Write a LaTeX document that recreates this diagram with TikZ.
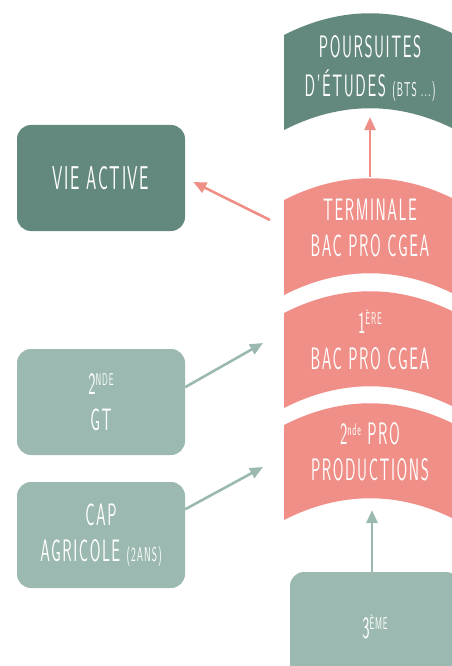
\documentclass[tikz,border=0pt]{standalone}
\usepackage{fontspec}
\usetikzlibrary{arrows.meta}
\newfontfamily\condfont{Latin Modern Sans}[FakeStretch=0.5,LetterSpace=5]
\definecolor{vert}{HTML}{63887D}
\definecolor{vertclair}{HTML}{9BB9B0}
\definecolor{saumon}{HTML}{F08F88}
\newcommand{\expo}[1]{\raisebox{9.5pt}{\fontsize{17}{17}\selectfont #1}}
\newcommand{\petit}[1]{{\fontsize{20}{20}\selectfont #1}}

\begin{document}
\begin{tikzpicture}[x=1pt,y=-1pt,
  txt/.style={text=white, font=\condfont\fontsize{31}{36}\selectfont, align=center, inner sep=0pt},
  boite/.style={fill=#1, rounded corners=14pt, minimum width=168pt, minimum height=106pt, txt},
  fleche/.style={draw=#1, line width=2.6pt, -{Triangle[length=13pt,width=11pt]}}]
\useasboundingbox (0,0) rectangle (452,666);
\clip (0,0) rectangle (452,666);
\foreach \haut/\coul in {35/vert, 200/saumon, 313/saumon, 425/saumon}
  \fill[\coul] (284,\haut) .. controls (341,\haut-29) and (399,\haut-29) .. (456,\haut)
    -- (456,\haut+95) .. controls (399,\haut+66) and (341,\haut+66) .. (284,\haut+95) -- cycle;
\node[txt] (pours) at (370,68) {POURSUITES\\[3pt]D’ÉTUDES \petit{(BTS ...)}};
\node[txt] (term) at (370,228) {TERMINALE\\BAC PRO CGEA};
\node[txt] (prem) at (370,340) {1\expo{ÈRE}\\BAC PRO CGEA};
\node[txt] (sec) at (370,452) {2\expo{nde} PRO\\PRODUCTIONS};
\node[boite=vert, font=\condfont\fontsize{33}{36}\selectfont] (vie) at (101,178) {VIE ACTIVE};
\node[boite=vertclair] (gt) at (101,402) {2\expo{NDE}\\GT};
\node[boite=vertclair] (cap) at (101,535) {CAP\\AGRICOLE \petit{(2ANS)}};
\node[boite=vertclair, minimum width=170pt, minimum height=110pt] (trois) at (375,627) {3\expo{ÈME}};
\coordinate (termG) at (270,220);
\coordinate (termH) at (370,177);
\coordinate (poursB) at (370,117);
\coordinate (premG) at (263,343);
\coordinate (secG) at (263,467);
\coordinate (secB) at (372,510);
\draw[fleche=saumon] (termH) -- (poursB);
\draw[fleche=saumon, shorten >=9pt] (termG) -- (vie.east);
\draw[fleche=vertclair] (gt.10) -- (premG);
\draw[fleche=vertclair] (cap.17) -- (secG);
\draw[fleche=vertclair] (secB |- trois.north) -- (secB);
\end{tikzpicture}
\end{document}
